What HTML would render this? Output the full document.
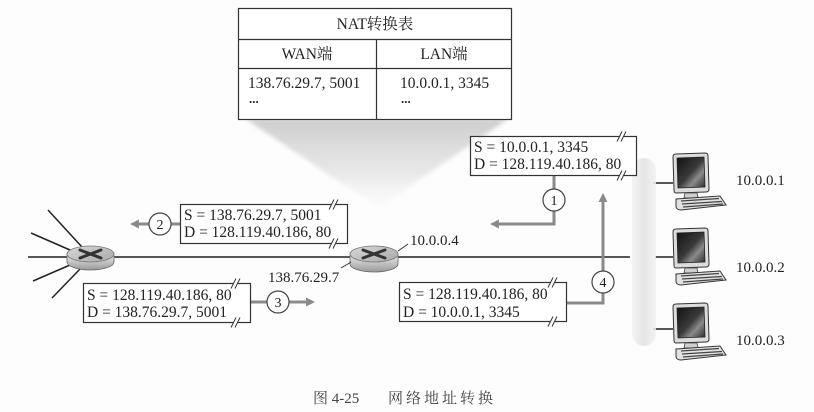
<!DOCTYPE html>
<html>
<head>
<meta charset="utf-8">
<style>
html,body{margin:0;padding:0;background:#fdfdfd;}
svg{display:block;}
text{font-family:"Liberation Serif","Noto Serif CJK SC","Noto Sans CJK SC",serif;fill:#222;}
</style>
</head>
<body>
<svg width="814" height="412" viewBox="0 0 814 412" xmlns="http://www.w3.org/2000/svg">
<defs>
  <linearGradient id="fun" x1="0" y1="0" x2="0" y2="1">
    <stop offset="0" stop-color="#c8c8c8" stop-opacity="0.9"/>
    <stop offset="0.6" stop-color="#dadada" stop-opacity="0.6"/>
    <stop offset="1" stop-color="#f4f4f4" stop-opacity="0.2"/>
  </linearGradient>
  <linearGradient id="band" x1="0" y1="0" x2="1" y2="0">
    <stop offset="0" stop-color="#f2f2f2"/>
    <stop offset="0.5" stop-color="#e2e2e2"/>
    <stop offset="1" stop-color="#f2f2f2"/>
  </linearGradient>
  <linearGradient id="rt" x1="0" y1="0" x2="0" y2="1">
    <stop offset="0" stop-color="#eeeeee"/>
    <stop offset="1" stop-color="#9a9a9a"/>
  </linearGradient>
  <linearGradient id="rtop" x1="0" y1="0" x2="1" y2="1">
    <stop offset="0" stop-color="#d8d8d8"/>
    <stop offset="1" stop-color="#a8a8a8"/>
  </linearGradient>
  <linearGradient id="scr" x1="0" y1="0" x2="1" y2="1">
    <stop offset="0" stop-color="#111"/>
    <stop offset="0.5" stop-color="#3a3a3a"/>
    <stop offset="0.7" stop-color="#8a8a8a"/>
    <stop offset="1" stop-color="#2a2a2a"/>
  </linearGradient>
  <filter id="blur2" x="-20%" y="-20%" width="140%" height="140%">
    <feGaussianBlur stdDeviation="2"/>
  </filter>
  <g id="pc">
    <path d="M1,3 Q1,0 4,0 L33,-1 Q36,-1 36,2 L37,35 Q37,38 34,38 L4,39 Q2,39 2,36 Z" fill="#dcdcdc" stroke="#333" stroke-width="1"/>
    <path d="M5,4 L32,3 L33,33 L6,34 Z" fill="url(#scr)" stroke="#222" stroke-width="0.8"/>
    <path d="M13,39 L25,39 L26,44 L12,44 Z" fill="#cfcfcf" stroke="#444" stroke-width="0.8"/>
    <path d="M4,45 L48,42 L54,51 L9,56 Q5,56 4,53 Z" fill="#e2e2e2" stroke="#333" stroke-width="1"/>
    <path d="M9,47 L47,44.5 M10,50 L50,47.5 M11,53 L51,50" stroke="#444" stroke-width="1.3"/>
  </g>
  <g id="brk">
    <polygon points="-4,5 1,-5 5,-5 0,5" fill="#fdfdfd"/>
    <line x1="-4" y1="5" x2="1" y2="-5" stroke="#333" stroke-width="1"/>
    <line x1="0" y1="5" x2="5" y2="-5" stroke="#333" stroke-width="1"/>
  </g>
</defs>

<!-- funnel -->
<polygon points="246,119 508,119 378,208" fill="url(#fun)" filter="url(#blur2)"/>

<!-- NAT table -->
<rect x="238.5" y="8.5" width="273" height="111" fill="#fff" stroke="#333" stroke-width="1.2"/>
<line x1="238.5" y1="39.5" x2="511.5" y2="39.5" stroke="#333" stroke-width="1.2"/>
<line x1="238.5" y1="68.5" x2="511.5" y2="68.5" stroke="#333" stroke-width="1.2"/>
<line x1="376.5" y1="39.5" x2="376.5" y2="119.5" stroke="#333" stroke-width="1.2"/>
<text x="375" y="29" font-size="15.5" text-anchor="middle">NAT转换表</text>
<text x="307" y="59" font-size="15.5" text-anchor="middle">WAN端</text>
<text x="444" y="59" font-size="15.5" text-anchor="middle">LAN端</text>
<text x="248" y="88" font-size="15.5">138.76.29.7, 5001</text>
<text x="249" y="103" font-size="13" font-weight="bold">...</text>
<text x="400" y="88" font-size="15.5">10.0.0.1, 3345</text>
<text x="401" y="103" font-size="13" font-weight="bold">...</text>

<!-- network lines -->
<g stroke="#222" stroke-width="1.5" fill="none">
  <line x1="48" y1="210" x2="82" y2="247"/>
  <line x1="31" y1="233" x2="70" y2="250"/>
  <line x1="28" y1="257" x2="67" y2="257"/>
  <line x1="33" y1="281" x2="70" y2="265"/>
  <line x1="52" y1="298" x2="80" y2="269"/>
  <line x1="114" y1="257" x2="350" y2="257"/>
  <line x1="398" y1="257" x2="630" y2="257"/>
  <line x1="655" y1="257" x2="673" y2="257"/>
  <line x1="653" y1="183" x2="673" y2="183"/>
  <line x1="653" y1="329" x2="673" y2="329"/>
</g>

<!-- gray band -->
<rect x="632" y="158" width="24" height="188" rx="12" fill="url(#band)" opacity="0.85"/>

<!-- routers -->
<g>
  <path d="M67,254 L67,262 A23.5,8 0 0 0 114,262 L114,254 Z" fill="url(#rt)" stroke="#666" stroke-width="0.8"/>
  <ellipse cx="90.5" cy="254" rx="23.5" ry="8" fill="url(#rtop)" stroke="#777" stroke-width="0.8"/>
  <path d="M80,250 L101,258 M80,258 L101,250" stroke="#333" stroke-width="3" stroke-linecap="round"/>
</g>
<g>
  <path d="M350,254 L350,264 A24,8 0 0 0 398,264 L398,254 Z" fill="url(#rt)" stroke="#666" stroke-width="0.8"/>
  <ellipse cx="374" cy="254" rx="24" ry="8" fill="url(#rtop)" stroke="#777" stroke-width="0.8"/>
  <path d="M363,250 L385,258 M363,258 L385,250" stroke="#333" stroke-width="3" stroke-linecap="round"/>
</g>

<!-- address labels -->
<line x1="398" y1="251" x2="408" y2="244" stroke="#333" stroke-width="1"/>
<text x="410" y="245" font-size="15">10.0.0.4</text>
<line x1="341" y1="268" x2="351" y2="262" stroke="#333" stroke-width="1"/>
<text x="268" y="282" font-size="15">138.76.29.7</text>

<!-- gray arrows -->
<g stroke="#8a8a8a" stroke-width="3" fill="none">
  <polyline points="554,175 554,224 497,224"/>
  <polyline points="567,303 603,303 603,200"/>
  <line x1="171" y1="224" x2="180" y2="224"/>
  <line x1="149" y1="224" x2="137" y2="224"/>
  <line x1="251" y1="302" x2="267" y2="302"/>
  <line x1="289" y1="302" x2="308" y2="302"/>
</g>
<g fill="#8a8a8a">
  <polygon points="490,224 499,219.5 499,228.5"/>
  <polygon points="603,193 598.5,202 607.5,202"/>
  <polygon points="130,224 139,219.5 139,228.5"/>
  <polygon points="315,302 306,297.5 306,306.5"/>
</g>

<!-- circles -->
<g fill="#fff" stroke="#444" stroke-width="1.2">
  <circle cx="554" cy="200" r="11"/>
  <circle cx="603" cy="282" r="11"/>
  <circle cx="160" cy="224" r="11"/>
  <circle cx="278" cy="302" r="11"/>
</g>
<g font-size="14" text-anchor="middle">
  <text x="554" y="205">1</text>
  <text x="603" y="287">4</text>
  <text x="160" y="229">2</text>
  <text x="278" y="307">3</text>
</g>

<!-- packet boxes -->
<g fill="#fff" stroke="#333" stroke-width="1.2">
  <rect x="470.5" y="136.5" width="166" height="39"/>
  <rect x="180.5" y="204.5" width="167" height="39"/>
  <rect x="83.5" y="283.5" width="167" height="39"/>
  <rect x="399.5" y="282.5" width="167" height="39"/>
</g>
<use href="#brk" x="621" y="136.5"/>
<use href="#brk" x="621" y="175.5"/>
<use href="#brk" x="333" y="204.5"/>
<use href="#brk" x="333" y="243.5"/>
<use href="#brk" x="235" y="283.5"/>
<use href="#brk" x="235" y="322.5"/>
<use href="#brk" x="552" y="282.5"/>
<use href="#brk" x="552" y="321.5"/>

<g font-size="15.5">
  <text x="474" y="152">S = 10.0.0.1, 3345</text>
  <text x="474" y="169">D = 128.119.40.186, 80</text>
  <text x="184" y="220">S = 138.76.29.7, 5001</text>
  <text x="184" y="237">D = 128.119.40.186, 80</text>
  <text x="87" y="300">S = 128.119.40.186, 80</text>
  <text x="87" y="317">D = 138.76.29.7, 5001</text>
  <text x="403" y="299">S = 128.119.40.186, 80</text>
  <text x="403" y="317">D = 10.0.0.1, 3345</text>
</g>

<!-- computers -->
<use href="#pc" x="672" y="154"/>
<use href="#pc" x="672" y="229"/>
<use href="#pc" x="672" y="304"/>
<g font-size="15">
  <text x="736" y="185">10.0.0.1</text>
  <text x="736" y="272">10.0.0.2</text>
  <text x="736" y="345">10.0.0.3</text>
</g>

<!-- caption -->
<text x="313" y="403" font-size="15" style="fill:#444">图 4-25</text>
<text x="388" y="403" font-size="15" textLength="105" lengthAdjust="spacing" style="fill:#444">网络地址转换</text>
</svg>
</body>
</html>
